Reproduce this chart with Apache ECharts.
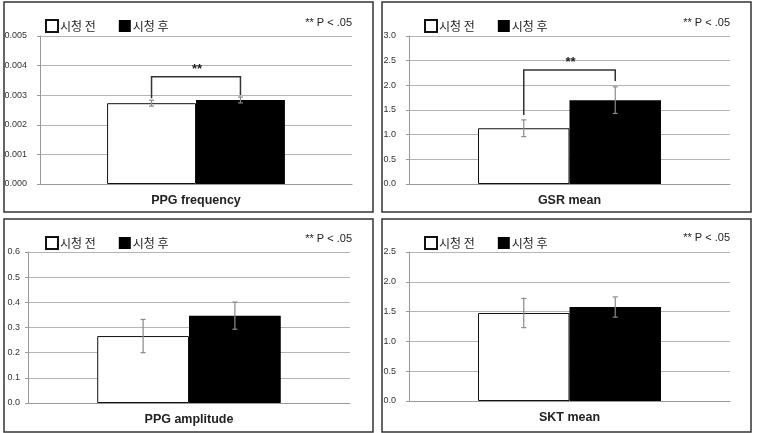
<!DOCTYPE html>
<html><head><meta charset="utf-8">
<script src="https://cdn.jsdelivr.net/npm/echarts@6/dist/echarts.min.js"></script>
<style>html,body{margin:0;padding:0;background:#fff}#c{width:758px;height:433px}</style>
</head><body><div id="c"></div>
<script>
// ---- data ----
const legendNames = ['시청 전', '시청 후'];
const panelTitles = ['PPG frequency', 'GSR mean', 'PPG amplitude', 'SKT mean'];
const beforeMeans = [0.00273, 1.13, 0.266, 1.476];
const afterMeans  = [0.00284, 1.70, 0.347, 1.577];
const beforeErr   = [0.0001, 0.17, 0.066, 0.245];
const afterErr    = [0.0001, 0.27, 0.054, 0.17];
const axisMax      = [0.005, 3.0, 0.6, 2.5];
const axisInterval = [0.001, 0.5, 0.1, 0.5];
const labelDecimals = [3, 1, 1, 1];
// significance brackets: panel index, left leg bottom, right leg bottom, top
const bracketPanels = [0, 1];
const bracketLeft   = [0.0029, 1.40];
const bracketRight  = [0.00301, 2.09];
const bracketTop    = [0.00362, 2.31];
const pNote = '** P < .05';
const starText = '**';

// ---- layout ----
const BAR_FRAC = 0.285;
const grids = [
  {left: 40, width: 312, top: 36, height: 148},
  {left: 409, width: 321, top: 36, height: 148},
  {left: 28, width: 322, top: 252, height: 151},
  {left: 409, width: 321, top: 252, height: 149}
];
const labelMargins = [13, 13, 8, 13];
const legendPos = [{left: 45, top: 19}, {left: 424, top: 19}, {left: 45, top: 236}, {left: 424, top: 236}];
const notePos = [{right: 406, top: 17}, {right: 28, top: 17}, {right: 406, top: 233}, {right: 28, top: 232}];
const borders = [[4, 2, 369, 210], [382, 2, 369, 210], [4, 219, 369, 213], [382, 219, 369, 213]];

const TXT = '#222';
const FONT = '"Liberation Sans", Arial, sans-serif';

const xAxes = [], yAxes = [], series = [], legends = [], titles = [], graphics = [];

function bandInfo(api) {
  const cx = api.coord([0, 0])[0];
  const band = api.size([1, 0])[0];
  return {cx: cx, bw: band * BAR_FRAC};
}

for (let i = 0; i < 4; i++) {
  xAxes.push({
    type: 'category', gridIndex: i, data: [panelTitles[i]],
    axisLine: {show: true, lineStyle: {color: '#999', width: 1}},
    axisTick: {show: false},
    axisLabel: {color: TXT, fontFamily: FONT, fontWeight: 'bold', fontSize: 12.5, margin: 10}
  });
  yAxes.push({
    type: 'value', gridIndex: i, min: 0, max: axisMax[i], interval: axisInterval[i],
    axisLine: {show: true, lineStyle: {color: '#999', width: 1}},
    axisTick: {show: true, length: 3, lineStyle: {color: '#999'}},
    splitLine: {show: true, lineStyle: {color: '#b4b4b4', width: 1}},
    axisLabel: {color: '#333', fontFamily: FONT, fontSize: 9, margin: labelMargins[i],
      formatter: (v) => v.toFixed(labelDecimals[i])}
  });
  series.push({
    type: 'bar', name: legendNames[0], xAxisIndex: i, yAxisIndex: i,
    data: [beforeMeans[i]], barWidth: (BAR_FRAC * 100) + '%', barGap: '0%',
    itemStyle: {color: '#ffffff', borderColor: '#111', borderWidth: 1},
    silent: true, z: 2
  });
  series.push({
    type: 'bar', name: legendNames[1], xAxisIndex: i, yAxisIndex: i,
    data: [afterMeans[i]], barWidth: (BAR_FRAC * 100) + '%', barGap: '0%',
    itemStyle: {color: '#000000'},
    silent: true, z: 2
  });
  // error bars
  series.push({
    type: 'custom', xAxisIndex: i, yAxisIndex: i, silent: true, z: 5,
    encode: {x: 0, y: [1, 2]},
    data: [
      [0, beforeMeans[i] - beforeErr[i], beforeMeans[i] + beforeErr[i], -1],
      [0, afterMeans[i] - afterErr[i], afterMeans[i] + afterErr[i], 1]
    ],
    renderItem: function (params, api) {
      const b = bandInfo(api);
      const x = b.cx + api.value(3) * b.bw / 2;
      const y1 = api.coord([0, api.value(1)])[1];
      const y2 = api.coord([0, api.value(2)])[1];
      const c = 2.5;
      const st = {stroke: '#8a8a8a', lineWidth: 1.2, fill: null};
      return {type: 'group', children: [
        {type: 'line', shape: {x1: x, y1: y1, x2: x, y2: y2}, style: st},
        {type: 'line', shape: {x1: x - c, y1: y1, x2: x + c, y2: y1}, style: st},
        {type: 'line', shape: {x1: x - c, y1: y2, x2: x + c, y2: y2}, style: st}
      ]};
    }
  });
  legends.push({
    gridIndex: i, left: legendPos[i].left, top: legendPos[i].top, orient: 'horizontal',
    data: legendNames.map(n => ({name: n, icon: 'rect'})),
    itemWidth: 12, itemHeight: 12, itemGap: 23, padding: 0, selectedMode: false,
    textStyle: {color: TXT, fontSize: 12, fontFamily: '"Noto Sans CJK KR", sans-serif', padding: [0, 0, 0, -3]}
  });
  titles.push({
    text: pNote, right: notePos[i].right, top: notePos[i].top, padding: 0,
    textStyle: {color: TXT, fontSize: 11, fontWeight: 'normal', fontFamily: FONT}
  });
  const r = borders[i];
  graphics.push({type: 'rect', shape: {x: r[0], y: r[1], width: r[2], height: r[3]},
    style: {fill: null, stroke: '#333', lineWidth: 1.5}, silent: true});
}

// significance brackets
for (let k = 0; k < bracketPanels.length; k++) {
  const i = bracketPanels[k];
  series.push({
    type: 'custom', xAxisIndex: i, yAxisIndex: i, silent: true, z: 6,
    encode: {x: 0, y: [1, 2, 3]},
    data: [[0, bracketLeft[k], bracketRight[k], bracketTop[k]]],
    renderItem: function (params, api) {
      const b = bandInfo(api);
      const xl = b.cx - b.bw / 2, xr = b.cx + b.bw / 2;
      const yl = api.coord([0, api.value(1)])[1];
      const yr = api.coord([0, api.value(2)])[1];
      const yt = api.coord([0, api.value(3)])[1];
      return {type: 'group', children: [
        {type: 'polyline', shape: {points: [[xl, yl], [xl, yt], [xr, yt], [xr, yr]]},
          style: {stroke: '#333', lineWidth: 1.5, fill: null}},
        {type: 'text', style: {text: starText, x: (xl + xr) / 2 + 1, y: yt - 1,
          align: 'center', verticalAlign: 'bottom', fill: TXT,
          font: 'bold 13px "Liberation Sans", Arial, sans-serif'}}
      ]};
    }
  });
}

const chart = echarts.init(document.getElementById('c'), null, {renderer: 'canvas'});
chart.setOption({
  animation: false,
  backgroundColor: '#ffffff',
  title: titles,
  legend: legends,
  grid: grids,
  xAxis: xAxes,
  yAxis: yAxes,
  series: series,
  graphic: graphics
});
</script></body></html>
